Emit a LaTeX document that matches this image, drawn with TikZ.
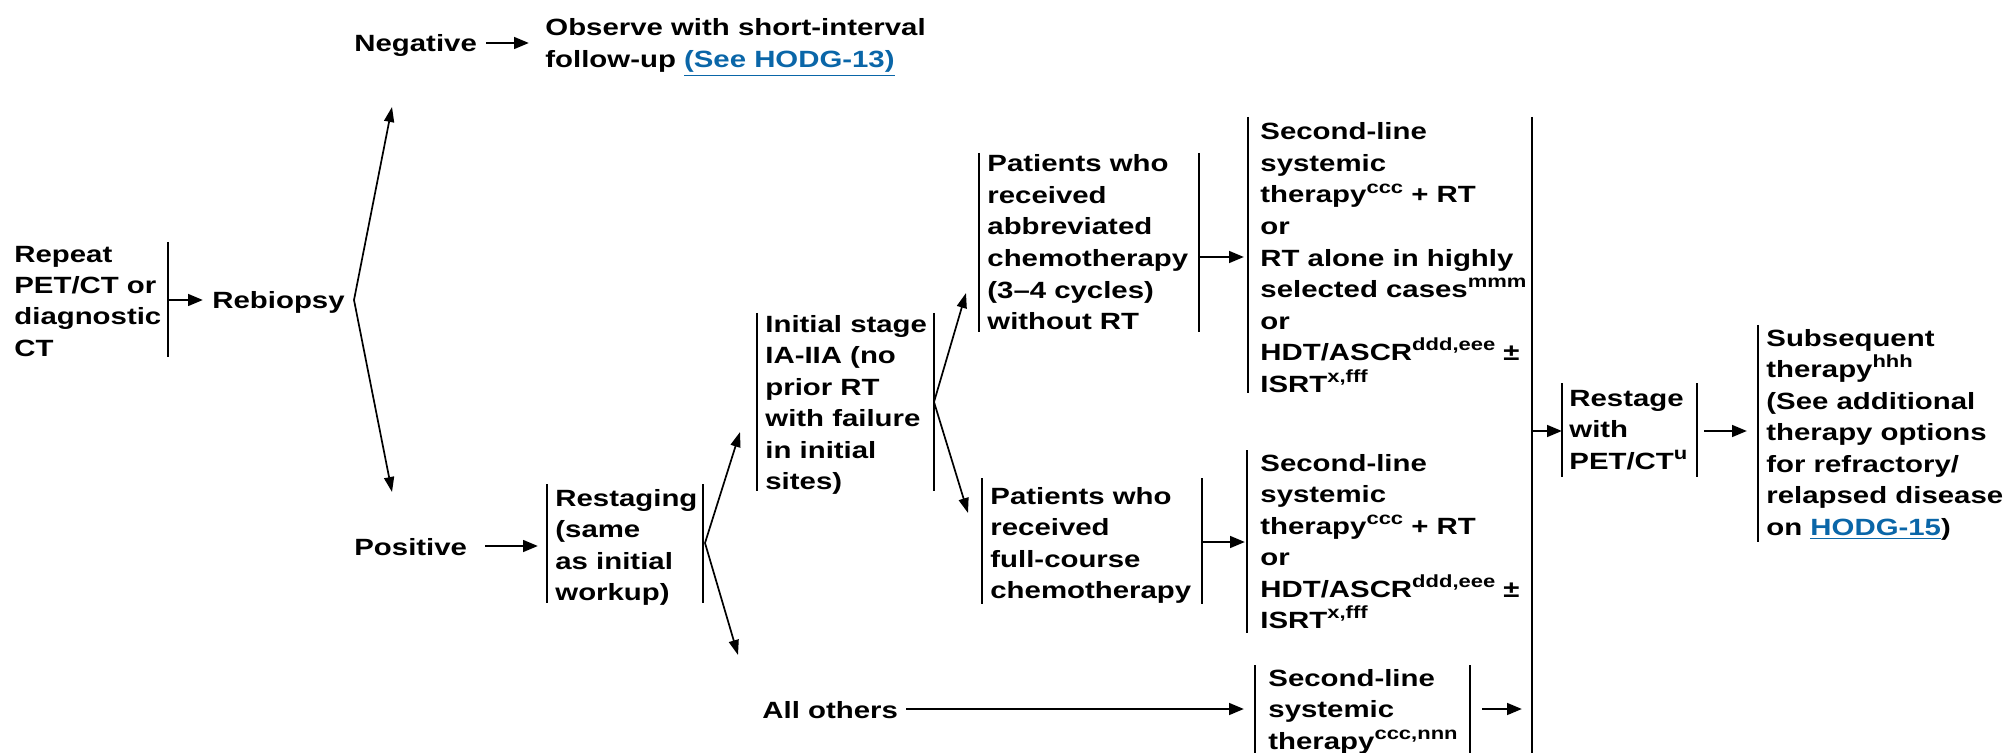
\documentclass[tikz,border=0pt]{standalone}
\usepackage{fontspec}
\newfontfamily\dfont{Liberation Sans}[FakeStretch=1.25]
\usetikzlibrary{arrows.meta}
\definecolor{linkblue}{RGB}{10,102,168}
\newcommand{\lnk}[1]{\textcolor{linkblue}{\underline{#1}}}
\newcommand{\sups}[1]{\raisebox{0.42em}{\fontsize{8.8}{8.8}\selectfont #1}}
\begin{document}
\begin{tikzpicture}[x=0.5pt,y=-0.5pt,
  txt/.style={inner sep=0pt, anchor=base west, align=left, font=\dfont\bfseries\fontsize{11.75}{15.75}\selectfont},
  bar/.style={line width=1pt},
  arr/.style={line width=1.35pt, -{Triangle[length=7.5pt,width=5.8pt]}},
  brarr/.style={line width=0.85pt, -{Triangle[length=7.5pt,width=5pt]}}]
\useasboundingbox (0,0) rectangle (2005,753);

% text nodes (anchored at the baseline of their last line)
\node[txt] (repeat) at (14,356.5) {Repeat\\PET/CT or\\diagnostic\\CT};
\node[txt] (rebiopsy) at (212,309) {Rebiopsy};
\node[txt] (neg) at (354,52) {Negative};
\node[txt] (obs) at (545,67.5) {Observe with short-interval\\follow-up \lnk{(See HODG-13)}};
\node[txt] (pos) at (354,555) {Positive};
\node[txt] (rst) at (555,600.5) {Restaging\\(same\\as initial\\workup)};
\node[txt] (init) at (765,489.5) {Initial stage\\IA-IIA (no\\prior RT\\with failure\\in initial\\sites)};
\node[txt] (allo) at (762,718) {All others};
\node[txt] (patA) at (987,329.5) {Patients who\\received\\abbreviated\\chemotherapy\\(3–4 cycles)\\without RT};
\node[txt] (patB) at (990,598.5) {Patients who\\received\\full-course\\chemotherapy};
\node[txt] (secA) at (1260,392) {Second-line\\systemic\\therapy\sups{ccc} + RT\\or\\RT alone in highly\\selected cases\sups{mmm}\\or\\HDT/ASCR\sups{ddd,eee} ±\\ISRT\sups{x,fff}};
\node[txt] (secB) at (1260,628.5) {Second-line\\systemic\\therapy\sups{ccc} + RT\\or\\HDT/ASCR\sups{ddd,eee} ±\\ISRT\sups{x,fff}};
\node[txt] (secC) at (1268,749) {Second-line\\systemic\\therapy\sups{ccc,nnn}};
\node[txt] (rsg) at (1569,469) {Restage\\with\\PET/CT\sups{u}};
\node[txt] (subs) at (1766,535) {Subsequent\\therapy\sups{hhh}\\(See additional\\therapy options\\for refractory/\\relapsed disease\\on \lnk{HODG-15})};

% bars
\draw[bar] (168,242) -- (168,357);
\draw[bar] (547,484) -- (547,603);
\draw[bar] (703,484) -- (703,603);
\draw[bar] (757,313) -- (757,491);
\draw[bar] (934,313) -- (934,491);
\draw[bar] (979,153) -- (979,332);
\draw[bar] (1199,153) -- (1199,332);
\draw[bar] (982,478) -- (982,604);
\draw[bar] (1202,478) -- (1202,604);
\draw[bar] (1248,117) -- (1248,393);
\draw[bar] (1247,450) -- (1247,633);
\draw[bar] (1255,665) -- (1255,753);
\draw[bar] (1470,665) -- (1470,753);
\draw[bar] (1532,117) -- (1532,753);
\draw[bar] (1562,383) -- (1562,477);
\draw[bar] (1697,383) -- (1697,477);
\draw[bar] (1758,325) -- (1758,542);

% connector coordinates
\coordinate (repOut) at (168,300);
\coordinate (rebIn) at (203,300);
\coordinate (rebOut) at (354,300);
\coordinate (negTip) at (392,107);
\coordinate (posTip) at (392,492);
\coordinate (negOut) at (486,43);
\coordinate (obsIn) at (529,43);
\coordinate (posOut) at (485,546);
\coordinate (rstIn) at (538,546);
\coordinate (rstOut) at (705,543);
\coordinate (initIn) at (740,432);
\coordinate (alloTip) at (738,655);
\coordinate (initOut) at (934,402);
\coordinate (patAIn) at (966,293);
\coordinate (patBIn) at (968,513);
\coordinate (patAOut) at (1199,257);
\coordinate (secAIn) at (1244,257);
\coordinate (patBOut) at (1202,542);
\coordinate (secBIn) at (1245,542);
\coordinate (alloOut) at (906,709);
\coordinate (secCIn) at (1244,709);
\coordinate (secCOut) at (1482,709);
\coordinate (collIn) at (1522,709);
\coordinate (collOut) at (1532,431);
\coordinate (rsgIn) at (1562,431);
\coordinate (rsgOut) at (1704,431);
\coordinate (subsIn) at (1747,431);

% connectors
\draw[arr] (repOut) -- (rebIn);
\draw[brarr] (rebOut) -- (negTip);
\draw[brarr] (rebOut) -- (posTip);
\draw[arr] (negOut) -- (obsIn);
\draw[arr] (posOut) -- (rstIn);
\draw[brarr] (rstOut) -- (initIn);
\draw[brarr] (rstOut) -- (alloTip);
\draw[brarr] (initOut) -- (patAIn);
\draw[brarr] (initOut) -- (patBIn);
\draw[arr] (patAOut) -- (secAIn);
\draw[arr] (patBOut) -- (secBIn);
\draw[arr] (alloOut) -- (secCIn);
\draw[arr] (secCOut) -- (collIn);
\draw[arr] (collOut) -- (rsgIn);
\draw[arr] (rsgOut) -- (subsIn);
\end{tikzpicture}
\end{document}
